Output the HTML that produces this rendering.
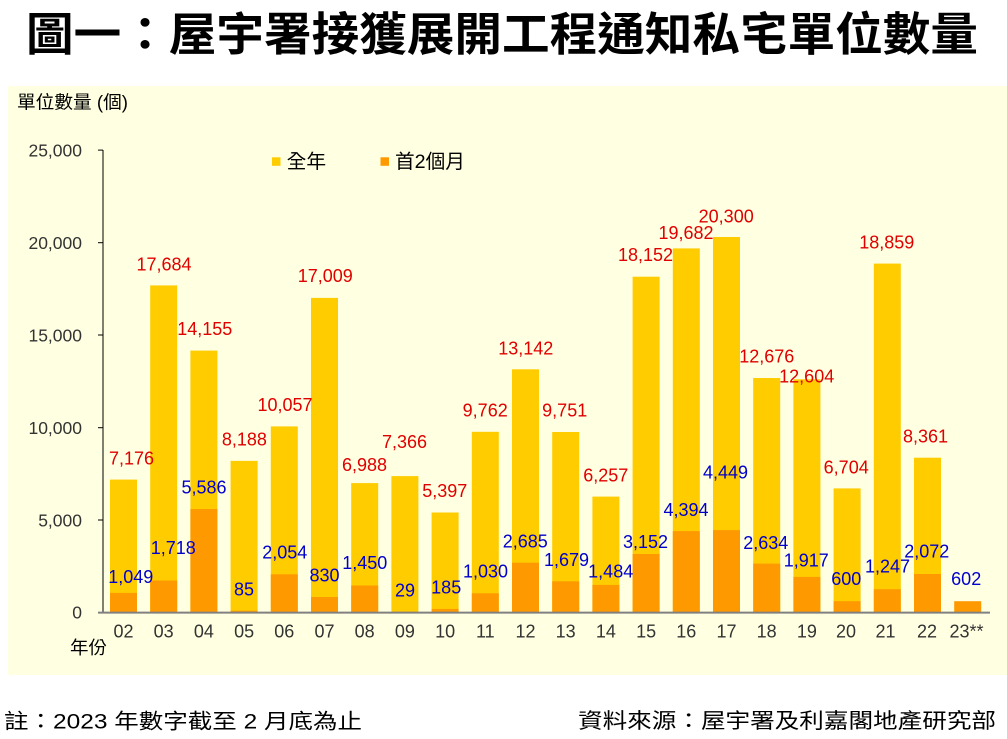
<!DOCTYPE html>
<html><head><meta charset="utf-8">
<style>
html,body{margin:0;padding:0;background:#fff;}
svg{display:block;}
</style></head>
<body>
<svg width="1007" height="739" viewBox="0 0 1007 739" xmlns="http://www.w3.org/2000/svg">
<rect x="0" y="0" width="1007" height="739" fill="#ffffff"/>
<text x="26" y="50.5" font-family="'Liberation Sans','Noto Sans CJK TC',sans-serif" font-weight="bold" font-size="46" fill="#000" textLength="952" lengthAdjust="spacingAndGlyphs">圖一：屋宇署接獲展開工程通知私宅單位數量</text>
<rect x="8" y="86" width="999" height="589" fill="#FFFFE1"/>
<text x="17" y="108.5" font-family="'Liberation Sans','Noto Sans CJK TC',sans-serif" font-size="18" fill="#000" textLength="111" lengthAdjust="spacingAndGlyphs">單位數量 (個)</text>
<g font-family="'Liberation Sans',sans-serif" font-size="17.5" fill="#333" text-anchor="end">
<text x="82" y="156.3">25,000</text>
<text x="82" y="249">20,000</text>
<text x="82" y="341.3">15,000</text>
<text x="82" y="434">10,000</text>
<text x="82" y="526.3">5,000</text>
<text x="82" y="618.5">0</text>
</g>
<g fill="#FFCC00">
<rect x="110.0" y="479.6" width="27" height="132.7"/>
<rect x="150.2" y="285.4" width="27" height="326.9"/>
<rect x="190.4" y="350.6" width="27" height="261.7"/>
<rect x="230.6" y="460.9" width="27" height="151.4"/>
<rect x="270.8" y="426.4" width="27" height="185.9"/>
<rect x="311.0" y="297.9" width="27" height="314.4"/>
<rect x="351.2" y="483.1" width="27" height="129.2"/>
<rect x="391.4" y="476.1" width="27" height="136.2"/>
<rect x="431.6" y="512.5" width="27" height="99.8"/>
<rect x="471.8" y="431.8" width="27" height="180.5"/>
<rect x="512.0" y="369.3" width="27" height="243.0"/>
<rect x="552.2" y="432.0" width="27" height="180.3"/>
<rect x="592.4" y="496.6" width="27" height="115.7"/>
<rect x="632.6" y="276.7" width="27" height="335.6"/>
<rect x="672.8" y="248.4" width="27" height="363.9"/>
<rect x="713.0" y="237.0" width="27" height="375.3"/>
<rect x="753.2" y="378.0" width="27" height="234.3"/>
<rect x="793.4" y="379.3" width="27" height="233.0"/>
<rect x="833.6" y="488.4" width="27" height="123.9"/>
<rect x="873.8" y="263.6" width="27" height="348.7"/>
<rect x="914.0" y="457.7" width="27" height="154.6"/>
</g>
<g fill="#FF9900">
<rect x="110.0" y="592.9" width="27" height="19.4"/>
<rect x="150.2" y="580.5" width="27" height="31.8"/>
<rect x="190.4" y="509.0" width="27" height="103.3"/>
<rect x="230.6" y="610.7" width="27" height="1.6"/>
<rect x="270.8" y="574.3" width="27" height="38.0"/>
<rect x="311.0" y="597.0" width="27" height="15.3"/>
<rect x="351.2" y="585.5" width="27" height="26.8"/>
<rect x="391.4" y="611.8" width="27" height="0.5"/>
<rect x="431.6" y="608.9" width="27" height="3.4"/>
<rect x="471.8" y="593.3" width="27" height="19.0"/>
<rect x="512.0" y="562.7" width="27" height="49.6"/>
<rect x="552.2" y="581.3" width="27" height="31.0"/>
<rect x="592.4" y="584.9" width="27" height="27.4"/>
<rect x="632.6" y="554.0" width="27" height="58.3"/>
<rect x="672.8" y="531.1" width="27" height="81.2"/>
<rect x="713.0" y="530.1" width="27" height="82.2"/>
<rect x="753.2" y="563.6" width="27" height="48.7"/>
<rect x="793.4" y="576.9" width="27" height="35.4"/>
<rect x="833.6" y="601.2" width="27" height="11.1"/>
<rect x="873.8" y="589.2" width="27" height="23.1"/>
<rect x="914.0" y="574.0" width="27" height="38.3"/>
<rect x="954.2" y="601.2" width="27" height="11.1"/>
</g>
<line x1="103" y1="150" x2="103" y2="612" stroke="#000" stroke-width="1"/>
<g stroke="#000" stroke-width="1">
<line x1="98" y1="150.1" x2="103" y2="150.1"/>
<line x1="98" y1="242.7" x2="103" y2="242.7"/>
<line x1="98" y1="335" x2="103" y2="335"/>
<line x1="98" y1="427.7" x2="103" y2="427.7"/>
<line x1="98" y1="520" x2="103" y2="520"/>
</g>
<line x1="98" y1="612.6" x2="990" y2="612.6" stroke="#808080" stroke-width="2"/>
<g font-family="'Liberation Sans',sans-serif" font-size="18" fill="#333" text-anchor="middle">
<text x="123.5" y="637.5">02</text>
<text x="163.7" y="637.5">03</text>
<text x="203.9" y="637.5">04</text>
<text x="244.1" y="637.5">05</text>
<text x="284.3" y="637.5">06</text>
<text x="324.5" y="637.5">07</text>
<text x="364.7" y="637.5">08</text>
<text x="404.9" y="637.5">09</text>
<text x="445.1" y="637.5">10</text>
<text x="485.3" y="637.5">11</text>
<text x="525.5" y="637.5">12</text>
<text x="565.7" y="637.5">13</text>
<text x="605.9" y="637.5">14</text>
<text x="646.1" y="637.5">15</text>
<text x="686.3" y="637.5">16</text>
<text x="726.5" y="637.5">17</text>
<text x="766.7" y="637.5">18</text>
<text x="806.9" y="637.5">19</text>
<text x="846.0" y="637.5">20</text>
<text x="885.5" y="637.5">21</text>
<text x="927.0" y="637.5">22</text>
<text x="966.5" y="637.5">23**</text>
</g>
<text x="70" y="654" font-family="'Liberation Sans','Noto Sans CJK TC',sans-serif" font-size="18" fill="#000" textLength="37" lengthAdjust="spacingAndGlyphs">年份</text>
<rect x="272" y="157.3" width="8.5" height="8.5" fill="#FFCC00"/>
<text x="286.7" y="167.8" font-family="'Liberation Sans','Noto Sans CJK TC',sans-serif" font-size="19.5" fill="#000" textLength="39.5" lengthAdjust="spacingAndGlyphs">全年</text>
<rect x="380.5" y="157.3" width="8.5" height="8.5" fill="#FF9900"/>
<text x="395" y="167.8" font-family="'Liberation Sans','Noto Sans CJK TC',sans-serif" font-size="19.5" fill="#000" textLength="70" lengthAdjust="spacingAndGlyphs">首2個月</text>
<g font-family="'Liberation Sans',sans-serif" font-size="18" fill="#E00000" text-anchor="middle">
<text x="131.5" y="464.4">7,176</text>
<text x="164" y="270.4">17,684</text>
<text x="204.8" y="335.1">14,155</text>
<text x="244.4" y="445.4">8,188</text>
<text x="285" y="411.1">10,057</text>
<text x="325.3" y="282.2">17,009</text>
<text x="364.5" y="470.9">6,988</text>
<text x="404.5" y="448.1">7,366</text>
<text x="444.8" y="496.9">5,397</text>
<text x="485.2" y="416.7">9,762</text>
<text x="525.8" y="354.7">13,142</text>
<text x="564.7" y="416.7">9,751</text>
<text x="605.8" y="481.4">6,257</text>
<text x="645.5" y="260.9">18,152</text>
<text x="686" y="239.2">19,682</text>
<text x="726.2" y="222.4">20,300</text>
<text x="766.8" y="362.6">12,676</text>
<text x="806.7" y="382.6">12,604</text>
<text x="846.2" y="473.6">6,704</text>
<text x="886.8" y="248.6">18,859</text>
<text x="925.5" y="442.6">8,361</text>
</g>
<g font-family="'Liberation Sans',sans-serif" font-size="18" fill="#0000CC" text-anchor="middle">
<text x="130.8" y="583.1">1,049</text>
<text x="173.3" y="554.2">1,718</text>
<text x="204" y="493.4">5,586</text>
<text x="244" y="595.4">85</text>
<text x="284.8" y="558.4">2,054</text>
<text x="324.5" y="581.4">830</text>
<text x="364.8" y="569.1">1,450</text>
<text x="405" y="596.4">29</text>
<text x="446.2" y="593.4">185</text>
<text x="485.5" y="577.6">1,030</text>
<text x="525.3" y="547.7">2,685</text>
<text x="566.5" y="565.9">1,679</text>
<text x="610.7" y="577.6">1,484</text>
<text x="645.5" y="548.1">3,152</text>
<text x="686" y="516.1">4,394</text>
<text x="725.5" y="478.4">4,449</text>
<text x="765.8" y="548.9">2,634</text>
<text x="806.3" y="566.7">1,917</text>
<text x="846.3" y="585.2">600</text>
<text x="887.5" y="572.6">1,247</text>
<text x="926.8" y="557.7">2,072</text>
<text x="966.2" y="585.2">602</text>
</g>
<text x="4" y="728.5" font-family="'Liberation Sans','Noto Sans CJK TC',sans-serif" font-size="21" fill="#000" textLength="358" lengthAdjust="spacingAndGlyphs">註：2023 年數字截至 2 月底為止</text>
<text x="578" y="728" font-family="'Liberation Sans','Noto Sans CJK TC',sans-serif" font-size="21" fill="#000" textLength="418" lengthAdjust="spacingAndGlyphs">資料來源：屋宇署及利嘉閣地產研究部</text>
</svg>
</body></html>
